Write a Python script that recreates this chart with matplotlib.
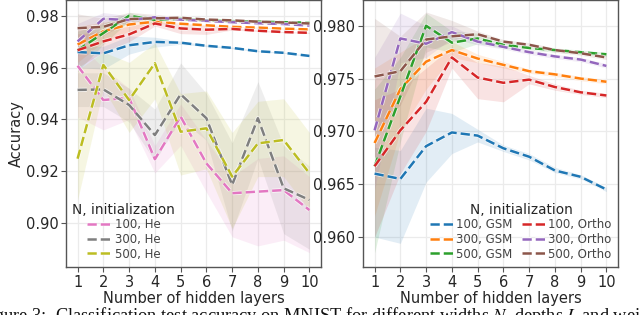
import matplotlib
matplotlib.use("Agg")
import matplotlib.pyplot as plt
import matplotlib.patheffects as pe
import numpy as np

layers = [1, 2, 3, 4, 5, 6, 7, 8, 9, 10]
xticks = [1, 2, 3, 4, 5, 6, 7, 8, 9, 10]

labels = ["100, GSM", "300, GSM", "500, GSM", "100, Ortho", "300, Ortho", "500, Ortho",
          "100, He", "300, He", "500, He"]
colors = ["#1f77b4", "#ff7f0e", "#2ca02c", "#d62728", "#9467bd", "#8c564b",
          "#e377c2", "#7f7f7f", "#bcbd22"]

gsm100 = [0.9660, 0.9655, 0.9686, 0.9699, 0.9696, 0.9684, 0.9676, 0.9663, 0.9657, 0.9645]
gsm100_lo = [0.9600, 0.9594, 0.9652, 0.9679, 0.9690, 0.9681, 0.9673, 0.9661, 0.9655, 0.9643]
gsm100_hi = [0.9685, 0.9682, 0.9722, 0.9717, 0.9702, 0.9687, 0.9679, 0.9666, 0.9659, 0.9647]

gsm300 = [0.9689, 0.9740, 0.9766, 0.9777, 0.9769, 0.9763, 0.9757, 0.9754, 0.9750, 0.9747]
gsm300_lo = [0.9620, 0.9700, 0.9740, 0.9770, 0.9765, 0.9760, 0.9755, 0.9752, 0.9748, 0.9745]
gsm300_hi = [0.9760, 0.9775, 0.9790, 0.9785, 0.9773, 0.9766, 0.9759, 0.9756, 0.9752, 0.9749]

gsm500 = [0.9667, 0.9733, 0.9800, 0.9784, 0.9788, 0.9782, 0.9779, 0.9777, 0.9775, 0.9773]
gsm500_lo = [0.9585, 0.9690, 0.9780, 0.9775, 0.9783, 0.9779, 0.9777, 0.9775, 0.9773, 0.9771]
gsm500_hi = [0.9740, 0.9770, 0.9812, 0.9795, 0.9793, 0.9785, 0.9781, 0.9779, 0.9777, 0.9775]

ortho100 = [0.9667, 0.9701, 0.9728, 0.9770, 0.9751, 0.9746, 0.9749, 0.9742, 0.9737, 0.9734]
ortho100_lo = [0.9600, 0.9660, 0.9700, 0.9760, 0.9731, 0.9728, 0.9745, 0.9739, 0.9735, 0.9732]
ortho100_hi = [0.9730, 0.9740, 0.9760, 0.9780, 0.9765, 0.9762, 0.9753, 0.9745, 0.9739, 0.9736]

ortho300 = [0.9701, 0.9788, 0.9783, 0.9794, 0.9785, 0.9780, 0.9775, 0.9771, 0.9768, 0.9762]
ortho300_lo = [0.9645, 0.9765, 0.9770, 0.9788, 0.9782, 0.9778, 0.9773, 0.9769, 0.9766, 0.9760]
ortho300_hi = [0.9770, 0.9812, 0.9800, 0.9800, 0.9788, 0.9782, 0.9777, 0.9773, 0.9770, 0.9764]

ortho500 = [0.9752, 0.9757, 0.9787, 0.9790, 0.9792, 0.9785, 0.9782, 0.9777, 0.9774, 0.9770]
ortho500_lo = [0.9700, 0.9725, 0.9775, 0.9785, 0.9789, 0.9783, 0.9780, 0.9775, 0.9772, 0.9768]
ortho500_hi = [0.9807, 0.9790, 0.9813, 0.9805, 0.9795, 0.9787, 0.9784, 0.9779, 0.9776, 0.9772]

he100 = [0.9607, 0.9475, 0.9484, 0.9247, 0.9411, 0.9231, 0.9116, 0.9122, 0.9128, 0.9051]
he100_lo = [0.9410, 0.9360, 0.9400, 0.9194, 0.9300, 0.9120, 0.8948, 0.8913, 0.8935, 0.8887]
he100_hi = [0.9695, 0.9600, 0.9520, 0.9300, 0.9460, 0.9320, 0.9180, 0.9250, 0.9260, 0.9180]

he300 = [0.9514, 0.9516, 0.9456, 0.9340, 0.9497, 0.9405, 0.9148, 0.9405, 0.9135, 0.9090]
he300_lo = [0.9450, 0.9450, 0.9390, 0.9240, 0.9400, 0.9320, 0.8970, 0.9250, 0.8960, 0.8900]
he300_hi = [0.9580, 0.9580, 0.9520, 0.9440, 0.9618, 0.9500, 0.9310, 0.9546, 0.9300, 0.9220]

he500 = [0.9249, 0.9610, 0.9475, 0.9617, 0.9353, 0.9366, 0.9180, 0.9308, 0.9321, 0.9193]
he500_lo = [0.9090, 0.9520, 0.9350, 0.9480, 0.9186, 0.9210, 0.8980, 0.9180, 0.9180, 0.9050]
he500_hi = [0.9590, 0.9660, 0.9620, 0.9695, 0.9500, 0.9510, 0.9350, 0.9470, 0.9480, 0.9350]

means = [gsm100, gsm300, gsm500, ortho100, ortho300, ortho500, he100, he300, he500]
lows = [gsm100_lo, gsm300_lo, gsm500_lo, ortho100_lo, ortho300_lo, ortho500_lo, he100_lo, he300_lo, he500_lo]
highs = [gsm100_hi, gsm300_hi, gsm500_hi, ortho100_hi, ortho300_hi, ortho500_hi, he100_hi, he300_hi, he500_hi]

plt.rcParams['font.family'] = ['DejaVu Sans']
plt.rcParams['mathtext.fontset'] = 'stix'

fig = plt.figure(figsize=(6.4, 3.15), dpi=100)
ax1 = fig.add_axes([66/640, 48/315, (321-66)/640, 1 - 48/315])
ax2 = fig.add_axes([363/640, 48/315, (618-363)/640, 1 - 48/315])

text_c = "#262626"
halo = [pe.Stroke(linewidth=3.0, foreground="white", alpha=0.7), pe.Normal()]

def draw(ax, idxs, legend_idxs):
    for i in idxs:
        ax.fill_between(layers, lows[i], highs[i], color=colors[i], alpha=0.13, linewidth=0)
    for i in idxs:
        lab = labels[i] if i in legend_idxs else "_nolegend_"
        ax.plot(layers, means[i], color=colors[i], linestyle=(0, (3.7, 1.6)), linewidth=1.8,
                label=lab, path_effects=halo)
    ax.set_xlim(0.55, 10.45)
    ax.set_xticks(xticks)
    ax.grid(True, color="#ebebeb", linewidth=0.9)
    ax.set_axisbelow(True)
    for s in ax.spines.values():
        s.set_color("#555555")
        s.set_linewidth(1.0)
    ax.tick_params(axis="both", labelsize=10.5, colors=text_c, length=3.5, width=0.8,
                   color="#555555", pad=2)
    ax.set_xlabel("Number of hidden layers", fontsize=10.5, color=text_c, labelpad=1)

draw(ax1, range(9), [6, 7, 8])
ax1.set_ylim(0.88316, 0.98605)
ax1.set_yticks([0.90, 0.92, 0.94, 0.96, 0.98])
ax1.set_yticklabels(["0.90", "0.92", "0.94", "0.96", "0.98"])
ax1.set_ylabel("Accuracy", fontsize=10.5, color=text_c)
ax1.yaxis.set_label_coords(-0.165, 0.5)
leg1 = ax1.legend(title="N, initialization", loc="lower left", bbox_to_anchor=(0.0, 0.0),
                  fontsize=8.5, title_fontsize=9.8, frameon=False, handlelength=2.1,
                  labelspacing=0.13, borderaxespad=0.15, handletextpad=0.3)
for t in leg1.get_texts():
    t.set_color("#444444")
leg1.get_title().set_color(text_c)

draw(ax2, range(6), list(range(6)))
ax2.set_ylim(0.95716, 0.98244)
ax2.set_yticks([0.960, 0.965, 0.970, 0.975, 0.980])
ax2.set_yticklabels(["0.960", "0.965", "0.970", "0.975", "0.980"])
leg2 = ax2.legend(title="N, initialization", loc="lower right", bbox_to_anchor=(1.0, 0.0),
                  ncol=2, fontsize=8.5, title_fontsize=9.8, frameon=False, handlelength=1.9,
                  labelspacing=0.13, borderaxespad=0.15, handletextpad=0.3, columnspacing=0.8)
for t in leg2.get_texts():
    t.set_color("#444444")
leg2.get_title().set_color(text_c)

fig.text(-0.033, -0.02,
         "Figure 3:  Classification test accuracy on MNIST for different widths $N$, depths $L$ and weight",
         fontsize=13.2, family="Liberation Serif", color="#111111", ha="left", va="baseline")

fig.savefig("out.png", dpi=100)
